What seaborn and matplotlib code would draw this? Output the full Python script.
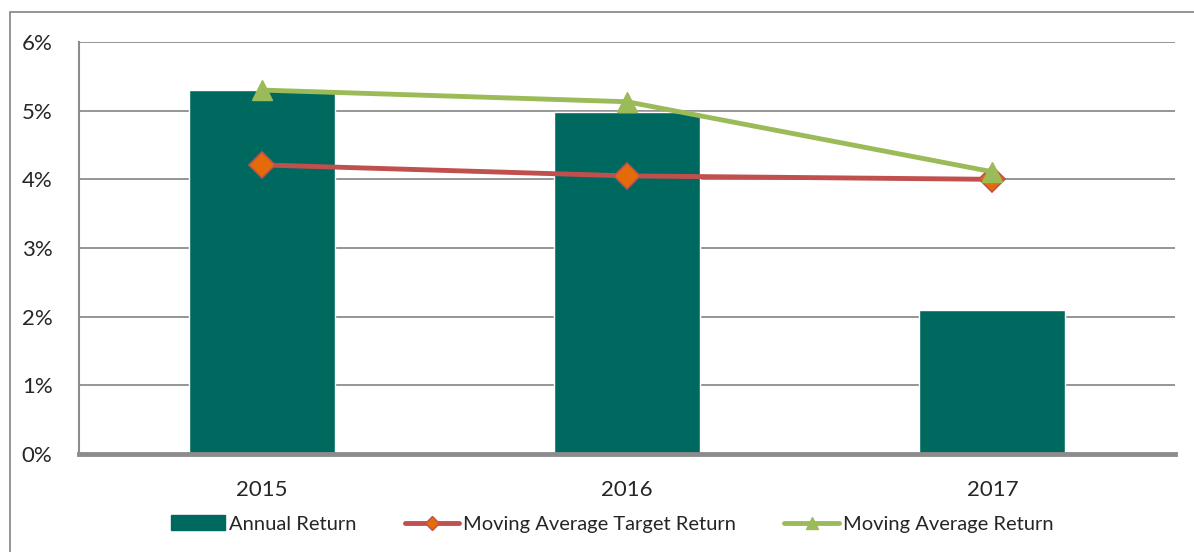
import matplotlib
matplotlib.use("Agg")
import matplotlib.pyplot as plt
import matplotlib.ticker as mticker
from matplotlib.patches import Rectangle, Patch
from matplotlib.lines import Line2D
import seaborn as sns
import pandas as pd

# 데이터
years = ["2015", "2016", "2017"]
annual_return = [5.30, 4.98, 2.10]
ma_target_return = [4.21, 4.05, 4.00]
ma_return = [5.30, 5.13, 4.11]

teal = "#00695F"
red = "#C0504D"
orange = "#E36C09"
green = "#9BBB59"
grey = "#8C8C8C"

sns.set_style("white")
plt.rcParams["font.family"] = ["Lato", "DejaVu Sans"]

df = pd.DataFrame({"year": years, "annual": annual_return,
                   "target": ma_target_return, "ma": ma_return})

fig = plt.figure(figsize=(11.94, 5.52), dpi=100)
ax = fig.add_axes([79/1194, 1-454/552, (1175-79)/1194, (454-42)/552])

sns.barplot(data=df, x="year", y="annual", color=teal, width=0.40,
            saturation=1, ax=ax, zorder=2)
ax.plot(years, ma_target_return, color=red, lw=3.5, marker="D", ms=13,
        mfc=orange, mec=red, mew=1.2, zorder=4)
ax.plot(years, ma_return, color=green, lw=3.5, marker="^", ms=14,
        mfc=green, mec=green, zorder=5)

ax.set_xlim(-0.5, 2.5)
ax.set_ylim(0, 6)
ax.yaxis.set_major_locator(mticker.MultipleLocator(1))
ax.yaxis.set_major_formatter(mticker.FuncFormatter(lambda v, p: "%d%%" % v))
ax.grid(axis="y", color=grey, lw=1.3, zorder=0)
ax.set_axisbelow(True)
ax.set_xlabel("")
ax.set_ylabel("")

# x축 눈금: 경계에 짧은 눈금, 라벨은 가운데
ax.set_xticks([-0.5, 0.5, 1.5, 2.5])
ax.set_xticklabels([])
ax.set_xticks([0, 1, 2], minor=True)
ax.set_xticklabels(years, minor=True)
ax.tick_params(axis="x", which="major", length=6, width=3, color=grey)
ax.tick_params(axis="x", which="minor", length=0, pad=19, labelsize=16)
ax.tick_params(axis="y", length=6, width=1.2, color=grey, pad=13, labelsize=16)

for s in ["top", "right"]:
    ax.spines[s].set_visible(False)
ax.spines["left"].set_color(grey)
ax.spines["left"].set_linewidth(1.5)
ax.spines["bottom"].set_color(grey)
ax.spines["bottom"].set_linewidth(3.5)
ax.spines["bottom"].set_zorder(6)

handles = [Patch(color=teal),
           Line2D([], [], color=red, lw=3.5, marker="D", ms=7, mfc=orange, mec=red),
           Line2D([], [], color=green, lw=3.5, marker="^", ms=8, mfc=green, mec=green)]
fig.legend(handles, ["Annual Return", "Moving Average Target Return", "Moving Average Return"],
           loc="center", bbox_to_anchor=(612/1194, 1-524/552), ncol=3, frameon=False,
           fontsize=14.5, handlelength=2.7, handletextpad=0.2, columnspacing=2.4)

# 바깥 테두리
fig.patches.append(Rectangle((10/1194, -0.1), 1.2, (552-12)/552 + 0.1,
                             transform=fig.transFigure, fill=False,
                             edgecolor=grey, lw=1.3))

fig.savefig("out.png", dpi=100)
